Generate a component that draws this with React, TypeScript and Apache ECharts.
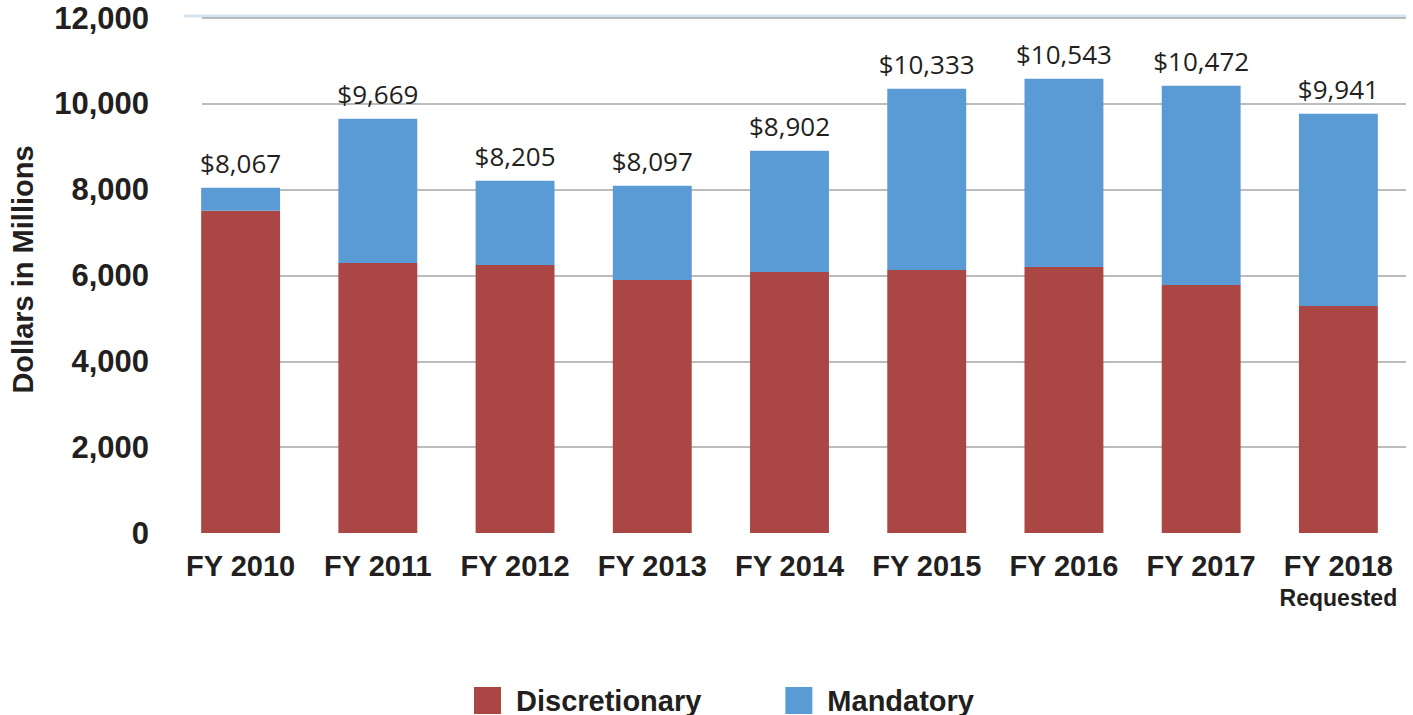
import React, { useEffect, useRef } from "react";
import * as echarts from "echarts";

const categories = ["FY 2010", "FY 2011", "FY 2012", "FY 2013", "FY 2014", "FY 2015", "FY 2016", "FY 2017", "FY 2018"];
const categoryNotes = ["", "", "", "", "", "", "", "", "Requested"];
const discretionary = [7506, 6294, 6247, 5897, 6084, 6130, 6200, 5781, 5291];
const mandatory = [536, 3356, 1958, 2192, 2820, 4220, 4383, 4639, 4476];
const totalLabels = ["$8,067", "$9,669", "$8,205", "$8,097", "$8,902", "$10,333", "$10,543", "$10,472", "$9,941"];
const yTicks = { min: 0, max: 12000, interval: 2000 };

const RED = "#AA4644";
const BLUE = "#5B9BD5";
const TEXT = "#231F20";
const BOLD = "'Liberation Sans', Arial, Helvetica, sans-serif";

export default function App() {
  const ref = useRef<HTMLDivElement>(null);
  useEffect(() => {
    if (!ref.current) return;
    const chart = echarts.init(ref.current, null, { renderer: "svg" });
    chart.setOption({
      animation: false,
      backgroundColor: "#ffffff",
      grid: [
        { left: 172, right: 6, top: 18, bottom: 182 },
        { left: 184, right: 7, top: 18, bottom: 182 },
      ],
      legend: {
        left: 474,
        top: 686,
        padding: 0,
        itemWidth: 27,
        itemHeight: 27,
        itemGap: 84,
        icon: "rect",
        textStyle: {
          fontFamily: BOLD,
          fontWeight: "bold",
          fontSize: 29,
          lineHeight: 27,
          color: TEXT,
          padding: [0, 0, 0, 10],
        },
        data: ["Discretionary", "Mandatory"],
      },
      graphic: [
        {
          type: "line",
          shape: { x1: 184, y1: 16, x2: 1406, y2: 16 },
          style: { stroke: "#D6E4F1", lineWidth: 3 },
          z: 0,
        },
      ],
      xAxis: [
        {
          type: "category",
          gridIndex: 0,
          data: categories,
          axisLine: { show: false },
          axisTick: { show: false },
          axisLabel: {
            interval: 0,
            margin: 17,
            fontFamily: BOLD,
            fontWeight: "bold",
            fontSize: 29,
            color: TEXT,
            lineHeight: 32,
            formatter: (v: string, i: number) => (categoryNotes[i] ? `${v}\n{s|${categoryNotes[i]}}` : v),
            rich: {
              s: { fontFamily: BOLD, fontWeight: "bold", fontSize: 23, color: TEXT, lineHeight: 32 },
            },
          },
        },
        { type: "value", gridIndex: 1, min: 0, max: 1, show: false },
      ],
      yAxis: [
        { type: "value", gridIndex: 0, min: yTicks.min, max: yTicks.max, interval: yTicks.interval, show: false },
        {
          type: "value",
          gridIndex: 1,
          min: yTicks.min,
          max: yTicks.max,
          interval: yTicks.interval,
          axisLine: { show: false },
          axisTick: { show: false },
          axisLabel: {
            margin: 53,
            fontFamily: BOLD,
            fontWeight: "bold",
            fontSize: 31,
            color: TEXT,
            formatter: (v: number) => v.toLocaleString("en-US"),
          },
          splitLine: { show: true, showMinLine: false, lineStyle: { color: "#A6A6A6", width: 1.5 } },
          name: "Dollars in Millions",
          nameLocation: "middle",
          nameGap: 165,
          nameTextStyle: { fontFamily: BOLD, fontWeight: "bold", fontSize: 29, color: TEXT, padding: [0, 0, 0, 12] },
        },
      ],
      series: [
        {
          name: "Discretionary",
          type: "bar",
          stack: "total",
          xAxisIndex: 0,
          yAxisIndex: 0,
          barWidth: "57.5%",
          itemStyle: { color: RED },
          data: discretionary,
        },
        {
          name: "Mandatory",
          type: "bar",
          stack: "total",
          xAxisIndex: 0,
          yAxisIndex: 0,
          barWidth: "57.5%",
          itemStyle: { color: BLUE },
          label: {
            show: true,
            position: "top",
            distance: 12,
            fontFamily: "'Open Sans', 'Noto Sans', sans-serif",
            fontSize: 26,
            color: "#231F20",
            formatter: (p: any) => totalLabels[p.dataIndex],
          },
          data: mandatory,
        },
      ],
    });
    return () => chart.dispose();
  }, []);
  return <div ref={ref} style={{ width: 1413, height: 715, position: "fixed", left: 0, top: 0 }} />;
}
